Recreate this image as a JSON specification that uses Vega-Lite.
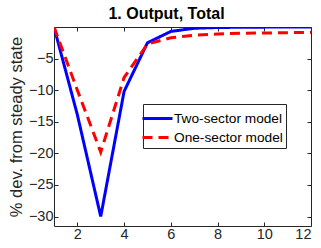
{
  "$schema": "https://vega.github.io/schema/vega-lite/v6.json",
  "autosize": "none",
  "width": 257,
  "height": 199,
  "padding": {"left": 54, "top": 27, "right": 10, "bottom": 22},
  "config": {
    "font": "Liberation Sans",
    "view": {"stroke": "#262626", "strokeWidth": 1},
    "axis": {"grid": false, "domain": false, "tickColor": "#262626", "tickSize": -4, "labelColor": "#262626", "labelFontSize": 14.5, "labelFont": "Liberation Sans", "titleFont": "Liberation Sans", "titleColor": "#262626", "titleFontWeight": "normal", "titleFontSize": 16.5}
  },
  "title": {"text": "1. Output, Total", "fontSize": 16, "fontWeight": "bold", "font": "Liberation Sans", "color": "#000000", "offset": 5, "anchor": "middle", "dx": -16},
  "data": {"values": [
    {"t": 1, "v": 0, "model": "Two-sector model"},
    {"t": 2, "v": -13.9, "model": "Two-sector model"},
    {"t": 3, "v": -30, "model": "Two-sector model"},
    {"t": 4, "v": -10.2, "model": "Two-sector model"},
    {"t": 5, "v": -2.5, "model": "Two-sector model"},
    {"t": 6, "v": -0.7, "model": "Two-sector model"},
    {"t": 7, "v": -0.2, "model": "Two-sector model"},
    {"t": 8, "v": -0.08, "model": "Two-sector model"},
    {"t": 9, "v": -0.04, "model": "Two-sector model"},
    {"t": 10, "v": -0.02, "model": "Two-sector model"},
    {"t": 11, "v": -0.01, "model": "Two-sector model"},
    {"t": 12, "v": -0.01, "model": "Two-sector model"},
    {"t": 1, "v": 0, "model": "One-sector model"},
    {"t": 2, "v": -10, "model": "One-sector model"},
    {"t": 3, "v": -19.8, "model": "One-sector model"},
    {"t": 4, "v": -8, "model": "One-sector model"},
    {"t": 5, "v": -2.7, "model": "One-sector model"},
    {"t": 6, "v": -1.7, "model": "One-sector model"},
    {"t": 7, "v": -1.3, "model": "One-sector model"},
    {"t": 8, "v": -1.1, "model": "One-sector model"},
    {"t": 9, "v": -1.0, "model": "One-sector model"},
    {"t": 10, "v": -0.95, "model": "One-sector model"},
    {"t": 11, "v": -0.9, "model": "One-sector model"},
    {"t": 12, "v": -0.85, "model": "One-sector model"}
  ]},
  "layer": [
    {
      "mark": {"type": "line", "strokeWidth": 3, "clip": true},
      "encoding": {
        "x": {"field": "t", "type": "quantitative", "scale": {"domain": [1, 12], "nice": false}, "axis": {"values": [2, 4, 6, 8, 10, 12], "title": null, "labelPadding": 5}},
        "y": {"field": "v", "type": "quantitative", "scale": {"domain": [-31.5, 0], "nice": false, "zero": false}, "axis": {"values": [-30, -25, -20, -15, -10, -5], "title": "% dev. from steady state", "labelPadding": 5, "titlePadding": 4}},
        "color": {"field": "model", "type": "nominal", "scale": {"domain": ["Two-sector model", "One-sector model"], "range": ["#0000FF", "#FF0000"]}, "legend": {"title": null, "orient": "none", "legendX": 89, "legendY": 77, "symbolType": "M-1.5,0H1.5", "symbolSize": 400, "symbolStrokeWidth": 3, "labelFontSize": 13.7, "labelColor": "#000000", "labelFont": "Liberation Sans", "fillColor": "#FFFFFF", "strokeColor": "#262626", "padding": 3, "rowPadding": -2, "labelOffset": 5, "labelLimit": 200}},
        "strokeDash": {"field": "model", "type": "nominal", "scale": {"domain": ["Two-sector model", "One-sector model"], "range": [[1, 0], [10, 6]]}, "legend": null}
      }
    },
    {
      "mark": {"type": "rule", "opacity": 0},
      "encoding": {
        "x": {"datum": 1, "type": "quantitative", "axis": {"orient": "top", "values": [2, 4, 6, 8, 10, 12], "labels": false, "title": null}},
        "y": {"datum": -5, "type": "quantitative", "axis": {"orient": "right", "values": [-30, -25, -20, -15, -10, -5], "labels": false, "title": null}}
      }
    }
  ],
  "resolve": {"axis": {"x": "independent", "y": "independent"}}
}
